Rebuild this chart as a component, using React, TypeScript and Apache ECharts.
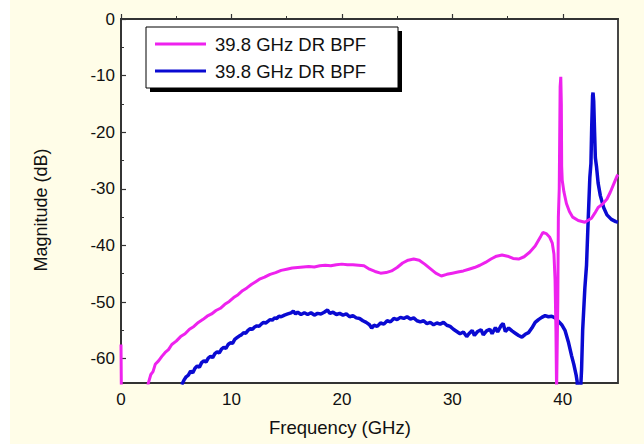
import React, { useEffect, useRef } from "react";
import * as echarts from "echarts";

// ---- Data ----
const seriesNames = ["39.8 GHz DR BPF", "39.8 GHz DR BPF"];

const magentaFreq = [
  0, 0.05, 2.4, 2.45, 2.7, 2.9, 3.1, 3.4, 3.7, 4.0, 4.3, 4.6, 5.0, 5.4, 5.8, 6.2, 6.6, 7.0, 7.4, 7.8,
  8.2, 8.6, 9.0, 9.4, 9.8, 10.2, 10.6, 11.0, 11.4, 11.8, 12.2, 12.6, 13.0, 13.5, 14.0, 14.5, 15.0,
  15.5, 16.0, 16.5, 17.0, 17.5, 18.0, 18.5, 19.0, 19.5, 20.0, 20.5, 21.0, 21.5, 22.0, 22.5, 23.0,
  23.5, 24.0, 24.5, 25.0, 25.5, 26.0, 26.5, 27.0, 27.5, 28.0, 28.5, 29.0, 29.5, 30.0, 30.5, 31.0,
  31.5, 32.0, 32.5, 33.0, 33.5, 34.0, 34.5, 35.0, 35.5, 36.0, 36.5, 37.0, 37.5, 38.0, 38.2, 38.5,
  38.8, 39.05, 39.2, 39.3, 39.38, 39.44, 39.5, 39.55, 39.6, 39.68, 39.76, 39.82, 39.87, 39.9, 39.95,
  40.1, 40.33, 40.6, 40.9, 41.4, 42.0, 42.6, 42.9, 43.2, 43.6, 44.0, 44.3, 44.6, 44.9, 45.0,
];
const magentaDb = [
  -57.5, -70, -70, -64.5, -62.8, -62.3, -61.0, -60.4, -59.6, -58.9, -58.4, -57.5, -56.9, -56.1, -55.6,
  -54.8, -54.3, -53.6, -53.1, -52.5, -52.1, -51.5, -51.1, -50.4, -49.9, -49.2, -48.7, -48.0, -47.5,
  -46.9, -46.4, -45.9, -45.6, -45.1, -44.8, -44.4, -44.2, -44.0, -43.9, -43.8, -43.7, -43.8, -43.6,
  -43.5, -43.6, -43.4, -43.3, -43.4, -43.4, -43.5, -43.6, -44.2, -44.6, -44.9, -44.8, -44.5, -43.9,
  -43.1, -42.6, -42.4, -42.6, -43.3, -44.1, -44.9, -45.4, -45.1, -44.9, -44.7, -44.5, -44.2, -43.9,
  -43.5, -43.0, -42.4, -41.9, -41.7, -41.9, -42.3, -42.4, -42.0, -41.2, -40.1, -38.4, -37.7, -37.9,
  -38.5, -39.6, -41.5, -46.0, -55.0, -66.0, -66.0, -50.0, -35.0, -30.0, -12.0, -10.2, -15.0, -26.0,
  -28.5, -30.5, -32.6, -34.0, -35.0, -35.6, -35.9, -35.2, -34.3, -33.3, -32.7, -31.8, -30.6, -29.2,
  -27.8, -27.5,
];

const blueFreq = [
  5.5, 5.7, 5.9, 6.1, 6.3, 6.5, 6.7, 6.9, 7.1, 7.3, 7.5, 7.7, 7.9, 8.1, 8.3, 8.5, 8.7, 8.9, 9.1, 9.3,
  9.5, 9.7, 9.9, 10.1, 10.3, 10.5, 10.7, 10.9, 11.1, 11.3, 11.5, 11.7, 11.9, 12.1, 12.3, 12.5, 12.7,
  12.9, 13.1, 13.3, 13.5, 13.7, 13.9, 14.1, 14.3, 14.5, 14.8, 15.1, 15.4, 15.6, 15.8, 16.0, 16.3,
  16.6, 16.9, 17.2, 17.5, 17.8, 18.1, 18.4, 18.7, 18.9, 19.2, 19.5, 19.8, 20.1, 20.4, 20.7, 21.0,
  21.3, 21.6, 21.9, 22.2, 22.5, 22.7, 22.9, 23.2, 23.5, 23.8, 24.1, 24.4, 24.7, 25.0, 25.3, 25.6,
  25.9, 26.2, 26.5, 26.8, 27.1, 27.4, 27.7, 28.0, 28.3, 28.6, 28.9, 29.2, 29.5, 29.8, 30.1, 30.4,
  30.7, 31.0, 31.3, 31.5, 31.8, 32.0, 32.3, 32.6, 32.8, 33.1, 33.4, 33.6, 33.9, 34.1, 34.4, 34.6,
  34.8, 35.1, 35.4, 35.7, 36.0, 36.3, 36.6, 36.9, 37.2, 37.5, 37.8, 38.1, 38.4, 38.7, 39.0, 39.3,
  39.6, 39.9, 40.2, 40.5, 40.8, 41.0, 41.2, 41.3, 41.35, 41.6, 41.7, 41.8, 42.0, 42.15, 42.3, 42.45,
  42.55, 42.62, 42.7, 42.74, 42.8, 42.88, 42.95, 43.05, 43.2, 43.4, 43.7, 44.0, 44.4, 44.8, 45.0,
];
const blueDb = [
  -64.6, -63.8, -63.2, -62.9, -62.2, -62.5, -61.7, -61.3, -61.5, -60.7, -60.4, -60.6, -59.9, -59.6,
  -59.8, -59.1, -58.8, -59.0, -58.3, -58.0, -58.2, -57.5, -57.2, -57.3, -56.6, -56.3, -56.0, -55.8,
  -55.4, -55.5, -55.0, -54.7, -54.8, -54.4, -54.2, -54.3, -53.9, -53.6, -53.7, -53.4, -53.1, -53.2,
  -52.8, -52.9, -52.5, -52.6, -52.3, -52.1, -51.9, -51.6, -52.1, -51.8, -52.2, -51.9, -52.2, -51.9,
  -52.3, -52.0, -52.1, -51.8, -51.4, -52.0, -51.8, -52.2, -52.0, -52.3, -52.1, -52.6, -52.4, -52.8,
  -52.9, -53.3, -53.6, -54.0, -54.6, -54.1, -54.3, -53.7, -53.9, -53.3, -53.5, -52.9, -53.1, -52.7,
  -52.9, -52.6, -53.0, -52.8, -53.3, -53.5, -53.3, -53.8, -53.6, -54.0, -53.7, -53.9, -53.6, -54.1,
  -54.3, -54.8, -55.2, -55.6, -55.3, -56.1, -55.6, -55.0, -55.9, -55.2, -54.9, -55.8, -55.1, -54.8,
  -55.6, -54.5, -55.3, -54.2, -53.8, -55.2, -54.6, -55.1, -55.5, -55.9, -56.2, -55.7, -55.4, -54.6,
  -53.6, -53.1, -52.7, -52.4, -52.6, -52.5, -52.8, -53.4, -54.0, -55.0, -57.0, -59.5, -61.0, -62.8,
  -64.0, -66.0, -66.0, -62.0, -55.0, -47.5, -43.5, -35.5, -28.0, -25.5, -19.0, -13.5, -13.0, -14.5,
  -20.0, -24.5, -26.0, -29.0, -31.2, -33.3, -34.6, -35.4, -35.8, -35.9,
];

const xMajorTicks = [0, 10, 20, 30, 40];
const xMinorTicks = [5, 15, 25, 35];
const yMajorTicks = [0, -10, -20, -30, -40, -50, -60];
const yMinorTicks = [-5, -15, -25, -35, -45, -55];

const xTitle = "Frequency (GHz)";
const yTitle = "Magnitude (dB)";

const MAGENTA = "#EE22EE";
const BLUE = "#0A0AD2";
const FONT = 'Arial, "Liberation Sans", sans-serif';

export default function App() {
  const ref = useRef<HTMLDivElement>(null);

  useEffect(() => {
    if (!ref.current) return;
    const chart = echarts.init(ref.current, undefined, { renderer: "svg" });

    const pair = (fs: number[], vs: number[]) => fs.map((f, i) => [f, vs[i]]);

    const baseX = { type: "value", min: 0, max: 45, gridIndex: 0 };
    const baseY = { type: "value", min: -64.3, max: 0, gridIndex: 0 };

    chart.setOption({
      animation: false,
      grid: {
        left: 121,
        top: 19,
        width: 497,
        height: 364,
        show: true,
        backgroundColor: "#ffffff",
        borderColor: "#333",
        borderWidth: 1.8,
      },
      xAxis: [
        {
          ...baseX,
          position: "bottom",
          axisLine: { show: true, lineStyle: { color: "#333", width: 1.8 } },
          axisTick: {
            show: true,
            inside: true,
            length: 5,
            customValues: xMajorTicks,
            lineStyle: { color: "#333", width: 1.2 },
          },
          axisLabel: {
            show: true,
            customValues: xMajorTicks,
            margin: 8,
            color: "#111",
            fontSize: 17,
            fontFamily: FONT,
          },
          splitLine: { show: false },
        },
        {
          ...baseX,
          position: "bottom",
          axisLine: { show: false },
          axisTick: {
            show: true,
            inside: true,
            length: 3,
            customValues: xMinorTicks,
            lineStyle: { color: "#333", width: 1 },
          },
          axisLabel: { show: false },
          splitLine: { show: false },
        },
      ],
      yAxis: [
        {
          ...baseY,
          position: "left",
          axisLine: { show: true, lineStyle: { color: "#333", width: 1.8 } },
          axisTick: {
            show: true,
            inside: true,
            length: 5,
            customValues: yMajorTicks,
            lineStyle: { color: "#333", width: 1.2 },
          },
          axisLabel: {
            show: true,
            customValues: yMajorTicks,
            margin: 6,
            color: "#111",
            fontSize: 17,
            fontFamily: FONT,
          },
          splitLine: { show: false },
        },
        {
          ...baseY,
          position: "left",
          axisLine: { show: false },
          axisTick: {
            show: true,
            inside: true,
            length: 3,
            customValues: yMinorTicks,
            lineStyle: { color: "#333", width: 1 },
          },
          axisLabel: { show: false },
          splitLine: { show: false },
        },
      ],
      series: [
        {
          name: seriesNames[0],
          type: "line",
          xAxisIndex: 0,
          yAxisIndex: 0,
          data: pair(magentaFreq, magentaDb),
          showSymbol: false,
          clip: true,
          lineStyle: { color: MAGENTA, width: 3 },
          itemStyle: { color: MAGENTA },
          z: 3,
        },
        {
          name: seriesNames[1],
          type: "line",
          xAxisIndex: 0,
          yAxisIndex: 0,
          data: pair(blueFreq, blueDb),
          showSymbol: false,
          clip: true,
          lineStyle: { color: BLUE, width: 3.5 },
          itemStyle: { color: BLUE },
          z: 2,
        },
      ],
      graphic: [
        {
          type: "text",
          left: 340 - 71,
          top: 418,
          style: {
            text: xTitle,
            fontSize: 18.5,
            fontFamily: FONT,
            fill: "#111",
          },
        },
        {
          type: "text",
          x: 41,
          y: 210,
          rotation: Math.PI / 2,
          style: {
            text: yTitle,
            fontSize: 18,
            fontFamily: FONT,
            fill: "#111",
            align: "center",
            verticalAlign: "middle",
          },
        },
        {
          type: "group",
          z: 100,
          children: [
            {
              type: "rect",
              shape: { x: 150, y: 31, width: 252, height: 61 },
              style: { fill: "#000" },
            },
            {
              type: "rect",
              shape: { x: 146, y: 27, width: 252, height: 61 },
              style: { fill: "#fff", stroke: "#000", lineWidth: 1 },
            },
            {
              type: "line",
              shape: { x1: 155, y1: 44, x2: 206, y2: 44 },
              style: { stroke: MAGENTA, lineWidth: 3 },
            },
            {
              type: "line",
              shape: { x1: 155, y1: 71, x2: 206, y2: 71 },
              style: { stroke: BLUE, lineWidth: 3 },
            },
            {
              type: "text",
              x: 215,
              y: 44,
              style: {
                text: seriesNames[0],
                fontSize: 18.5,
                fontFamily: FONT,
                fill: "#111",
                verticalAlign: "middle",
              },
            },
            {
              type: "text",
              x: 215,
              y: 71,
              style: {
                text: seriesNames[1],
                fontSize: 18.5,
                fontFamily: FONT,
                fill: "#111",
                verticalAlign: "middle",
              },
            },
          ],
        },
      ],
    });

    return () => chart.dispose();
  }, []);

  return (
    <div
      ref={ref}
      style={{
        position: "fixed",
        left: 0,
        top: 0,
        width: 644,
        height: 444,
        background: "linear-gradient(to right, #ffffff 10px, #FFFDE8 10px)",
      }}
    />
  );
}
